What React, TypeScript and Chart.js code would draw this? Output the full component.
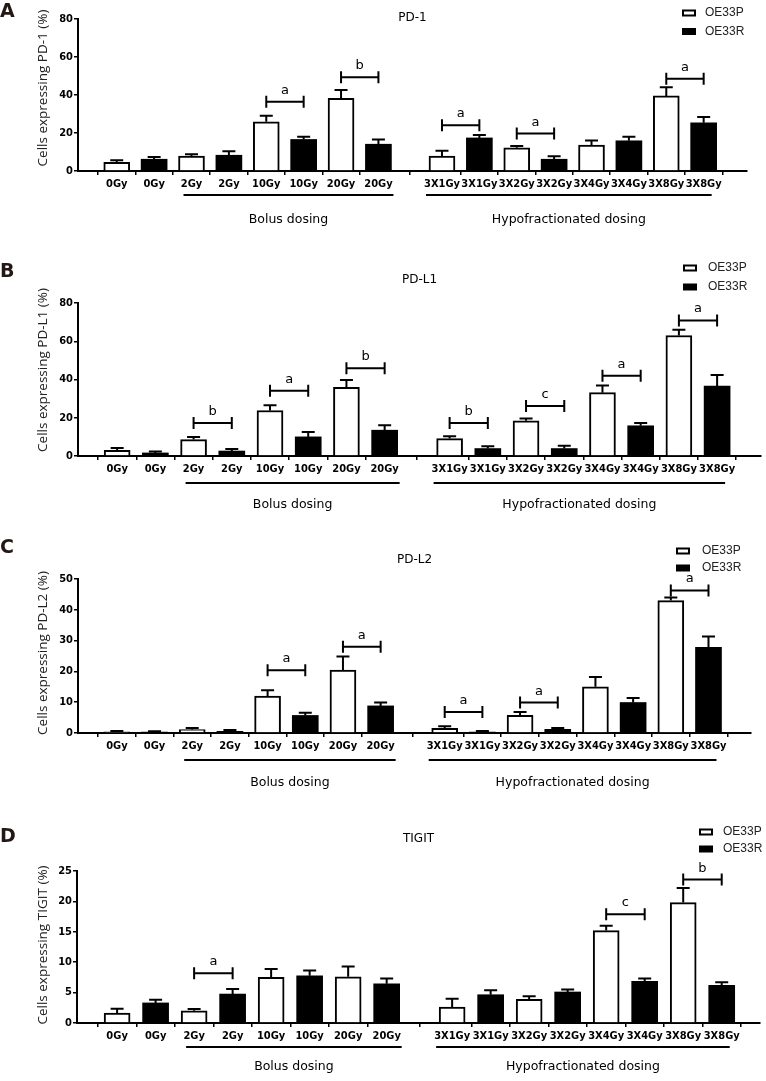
import React, { useEffect, useRef } from "react";
import { Chart, registerables } from "chart.js";

Chart.register(...registerables);

// ---------- data ----------
const categories = [
  "0Gy", "0Gy", "2Gy", "2Gy", "10Gy", "10Gy", "20Gy", "20Gy",
  "3X1Gy", "3X1Gy", "3X2Gy", "3X2Gy", "3X4Gy", "3X4Gy", "3X8Gy", "3X8Gy",
];
const seriesNames = ["OE33P", "OE33R"];
const groupNames = ["Bolus dosing", "Hypofractionated dosing"];
const panelLetters = ["A", "B", "C", "D"];
const markerNames = ["PD-1", "PD-L1", "PD-L2", "TIGIT"];
const axisTitles = [
  "Cells expressing PD-1 (%)",
  "Cells expressing PD-L1 (%)",
  "Cells expressing PD-L2 (%)",
  "Cells expressing TIGIT (%)",
];
const yMaxes = [80, 80, 50, 25];
const yStepSizes = [20, 20, 10, 5];

const pd1Means = [4.6, 6.2, 7.9, 8.3, 25.9, 16.6, 38.2, 14.1, 7.9, 17.4, 12.2, 6.2, 13.7, 15.9, 39.5, 25.4];
const pd1Errors = [1.1, 1.2, 0.9, 2.1, 3.2, 1.4, 4.4, 2.5, 2.7, 1.5, 1.0, 1.6, 2.3, 2.1, 4.6, 3.0];
const pd1Brackets: [number, number, string][] = [
  [4, 36.5, "a"], [6, 49.3, "b"], [8, 24.1, "a"], [10, 19.7, "a"], [14, 48.5, "a"],
];

const pdl1Means = [3.0, 1.6, 8.6, 2.6, 23.8, 10.0, 35.9, 13.5, 9.1, 3.9, 18.4, 3.9, 33.1, 15.8, 63.0, 36.6];
const pdl1Errors = [1.2, 0.7, 1.4, 1.1, 2.8, 2.6, 3.8, 2.6, 1.2, 1.2, 1.2, 1.4, 3.7, 1.4, 3.0, 5.8];
const pdl1Brackets: [number, number, string][] = [
  [2, 17.3, "b"], [4, 34.1, "a"], [6, 45.9, "b"], [8, 17.3, "b"], [10, 26.1, "c"], [12, 42.0, "a"], [14, 70.9, "a"],
];

const pdl2Means = [0.4, 0.3, 1.1, 0.55, 12.0, 5.7, 20.4, 8.8, 1.5, 0.3, 5.7, 1.2, 15.0, 9.9, 43.0, 27.8];
const pdl2Errors = [0.25, 0.25, 0.5, 0.45, 1.9, 0.9, 4.4, 1.1, 0.7, 0.35, 1.1, 0.4, 3.2, 1.5, 1.0, 3.5];
const pdl2Brackets: [number, number, string][] = [
  [4, 20.4, "a"], [6, 28.0, "a"], [8, 6.8, "a"], [10, 9.9, "a"], [14, 46.3, "a"],
];

const tigitMeans = [1.65, 3.3, 2.0, 4.76, 7.5, 7.77, 7.6, 6.45, 2.6, 4.65, 3.9, 5.1, 15.2, 6.84, 19.8, 6.2];
const tigitErrors = [0.7, 0.53, 0.3, 0.84, 1.4, 0.87, 1.7, 0.85, 1.4, 0.75, 0.5, 0.4, 0.8, 0.46, 2.4, 0.5];
const tigitBrackets: [number, number, string][] = [
  [2, 8.2, "a"], [12, 17.9, "c"], [14, 23.6, "b"],
];

const allMeans = [pd1Means, pdl1Means, pdl2Means, tigitMeans];
const allErrors = [pd1Errors, pdl1Errors, pdl2Errors, tigitErrors];
const allBrackets = [pd1Brackets, pdl1Brackets, pdl2Brackets, tigitBrackets];

// ---------- layout (page coordinates) ----------
type Layout = {
  top: number; height: number;
  areaTop: number; areaBottom: number; areaLeft: number; areaRight: number;
  xMin: number; xMax: number;
  titleY: number; legendY: [number, number]; legendX: number; legendTextX: number;
  letterBase: number; yTitleCenter: number; lineOff: number; textOff: number;
};

const layouts: Layout[] = [
  { top: 0, height: 258, areaTop: 19, areaBottom: 171, areaLeft: 78, areaRight: 747, xMin: -0.477, xMax: 16.3,
    titleY: 18, legendY: [13, 31.5], legendX: 682, legendTextX: 705, letterBase: 17, yTitleCenter: 88, lineOff: 24, textOff: 49 },
  { top: 258, height: 270, areaTop: 303, areaBottom: 456, areaLeft: 78, areaRight: 761, xMin: -0.466, xMax: 16.29,
    titleY: 280, legendY: [268, 287], legendX: 683, legendTextX: 708, letterBase: 277, yTitleCenter: 370, lineOff: 27, textOff: 49 },
  { top: 528, height: 270, areaTop: 579, areaBottom: 733, areaLeft: 78, areaRight: 751, xMin: -0.473, xMax: 16.27,
    titleY: 560, legendY: [551, 568], legendX: 676, legendTextX: 702, letterBase: 553, yTitleCenter: 653, lineOff: 27, textOff: 50 },
  { top: 798, height: 283, areaTop: 871, areaBottom: 1023, areaLeft: 77, areaRight: 760, xMin: -0.487, xMax: 16.14,
    titleY: 839, legendY: [832, 849], legendX: 699, legendTextX: 723, letterBase: 842, yTitleCenter: 945, lineOff: 24, textOff: 44 },
];

const pos = (i: number) => (i < 8 ? i : i + 0.7);
const TICK_FONT = "'DejaVu Sans Condensed', 'DejaVu Sans', sans-serif";

function Panel({ idx }: { idx: number }) {
  const ref = useRef<HTMLCanvasElement | null>(null);
  const L = layouts[idx];

  useEffect(() => {
    if (!ref.current) return;
    const means = allMeans[idx];
    const errors = allErrors[idx];
    const brackets = allBrackets[idx];
    const off = L.top;

    const overlay = {
      id: "overlay" + idx,
      afterDraw(chart: any) {
        const ctx = chart.ctx as CanvasRenderingContext2D;
        const xs = chart.scales.x;
        const ys = chart.scales.y;
        ctx.save();
        ctx.strokeStyle = "#000";
        ctx.fillStyle = "#000";
        ctx.lineWidth = 2;
        ctx.lineCap = "butt";

        // error bars (upper only)
        means.forEach((m, i) => {
          const cx = xs.getPixelForValue(pos(i));
          const y0 = ys.getPixelForValue(m);
          const y1 = ys.getPixelForValue(m + errors[i]);
          ctx.beginPath();
          ctx.moveTo(cx, y0);
          ctx.lineTo(cx, y1);
          ctx.moveTo(cx - 6.5, y1);
          ctx.lineTo(cx + 6.5, y1);
          ctx.stroke();
        });

        // significance brackets
        ctx.font = "13px 'DejaVu Sans', sans-serif";
        ctx.textAlign = "center";
        ctx.textBaseline = "alphabetic";
        brackets.forEach(([i, v, letter]) => {
          const xa = xs.getPixelForValue(pos(i));
          const xb = xs.getPixelForValue(pos(i + 1));
          const yb = ys.getPixelForValue(v);
          ctx.beginPath();
          ctx.moveTo(xa, yb);
          ctx.lineTo(xb, yb);
          ctx.moveTo(xa, yb - 6);
          ctx.lineTo(xa, yb + 6);
          ctx.moveTo(xb, yb - 6);
          ctx.lineTo(xb, yb + 6);
          ctx.stroke();
          ctx.fillText(letter, (xa + xb) / 2, yb - 8);
        });

        // group lines and labels
        const lineY = L.areaBottom + L.lineOff - off;
        const textY = L.areaBottom + L.textOff - off;
        const groups = [
          [xs.getPixelForValue(pos(2)) - 8, xs.getPixelForValue(pos(7)) + 15],
          [xs.getPixelForValue(pos(8)) - 16, xs.getPixelForValue(pos(15)) + 8],
        ];
        ctx.font = "12.5px 'DejaVu Sans', sans-serif";
        ctx.textBaseline = "middle";
        groups.forEach(([a, b], g) => {
          ctx.beginPath();
          ctx.moveTo(a, lineY);
          ctx.lineTo(b, lineY);
          ctx.stroke();
          ctx.fillText(groupNames[g], (a + b) / 2, textY);
        });

        // title
        ctx.font = "12px 'DejaVu Sans', sans-serif";
        ctx.fillText(markerNames[idx], (chart.chartArea.left + chart.chartArea.right) / 2, L.titleY - off);

        // legend
        seriesNames.forEach((name, s) => {
          const cy = L.legendY[s] - off;
          if (s === 0) {
            ctx.fillStyle = "#fff";
            ctx.fillRect(L.legendX, cy - 3.5, 14, 7);
            ctx.strokeRect(L.legendX + 1, cy - 2.5, 12, 5);
          } else {
            ctx.fillStyle = "#000";
            ctx.fillRect(L.legendX, cy - 3.5, 14, 7);
          }
          ctx.fillStyle = "#222";
          ctx.font = "12px 'Liberation Sans', Arial, sans-serif";
          ctx.textAlign = "left";
          ctx.textBaseline = "middle";
          ctx.fillText(name, L.legendTextX, cy);
        });

        // panel letter
        ctx.fillStyle = "#231815";
        ctx.font = "bold 19px 'DejaVu Sans', sans-serif";
        ctx.textAlign = "left";
        ctx.textBaseline = "alphabetic";
        ctx.fillText(panelLetters[idx], 0, L.letterBase - off);

        // y axis title
        ctx.save();
        ctx.translate(43, L.yTitleCenter - off);
        ctx.rotate(-Math.PI / 2);
        ctx.fillStyle = "#222";
        ctx.font = "13.5px 'Open Sans', sans-serif";
        ctx.textAlign = "center";
        ctx.textBaseline = "middle";
        ctx.fillText(axisTitles[idx], 0, 0);
        ctx.restore();

        ctx.restore();
      },
    };

    const positions = categories.map((_, i) => pos(i));

    const chart = new Chart(ref.current, {
      type: "bar",
      data: {
        datasets: seriesNames.map((name, s) => ({
          label: name,
          data: means
            .map((m, i) => ({ x: pos(i), y: m }))
            .filter((_, i) => i % 2 === s),
          backgroundColor: s === 0 ? "#ffffff" : "#000000",
          borderColor: "#000000",
          borderWidth: s === 0 ? 2 : 0,
          barThickness: 26,
          grouped: false,
        })) as any,
      },
      options: {
        animation: false,
        responsive: false,
        maintainAspectRatio: false,
        devicePixelRatio: 1,
        layout: {
          padding: { top: L.areaTop - off, right: 766 - L.areaRight, left: 0, bottom: 0 },
        },
        plugins: {
          legend: { display: false },
          title: { display: false },
          tooltip: { enabled: false },
        },
        scales: {
          x: {
            type: "linear",
            min: L.xMin,
            max: L.xMax,
            afterBuildTicks: (scale: any) => {
              scale.ticks = positions.map((v) => ({ value: v }));
            },
            afterFit: (scale: any) => {
              scale.height = L.top + L.height - L.areaBottom;
            },
            ticks: {
              autoSkip: false,
              maxRotation: 0,
              minRotation: 0,
              padding: 3,
              color: "#000",
              font: { family: TICK_FONT, weight: "bold", size: 11 },
              callback: (_v: any, i: number) => categories[i],
            },
            grid: {
              drawOnChartArea: false,
              drawTicks: true,
              tickLength: 4,
              color: "#000",
              lineWidth: 1.5,
            },
            border: { display: true, color: "#000", width: 2 },
          },
          y: {
            min: 0,
            max: yMaxes[idx],
            afterFit: (scale: any) => {
              scale.width = L.areaLeft;
            },
            ticks: {
              stepSize: yStepSizes[idx],
              padding: 1,
              color: "#000",
              font: { family: TICK_FONT, weight: "bold", size: 11 },
            },
            grid: {
              drawOnChartArea: false,
              drawTicks: true,
              tickLength: 4,
              color: "#000",
              lineWidth: 1.5,
            },
            border: { display: true, color: "#000", width: 2 },
          },
        },
      } as any,
      plugins: [overlay],
    });
    return () => chart.destroy();
  }, [idx]);

  return (
    <canvas
      ref={ref}
      width={766}
      height={L.height}
      style={{ position: "absolute", left: 0, top: L.top, width: 766, height: L.height, display: "block" }}
    />
  );
}

export default function App() {
  return (
    <div style={{ position: "absolute", left: 0, top: 0, width: 766, height: 1081, background: "#fff", overflow: "hidden" }}>
      {layouts.map((_, i) => (
        <Panel key={i} idx={i} />
      ))}
    </div>
  );
}
